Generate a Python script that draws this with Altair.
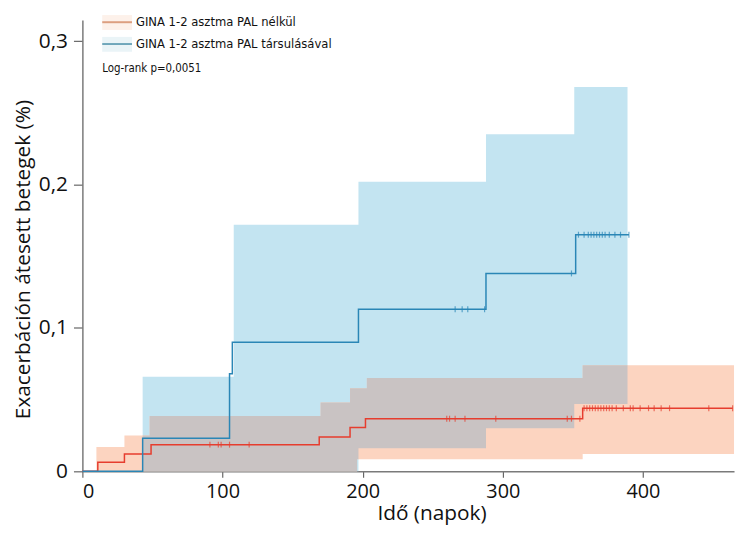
import altair as alt
import pandas as pd

series_no = "GINA 1-2 asztma PAL nélkül"
series_pal = "GINA 1-2 asztma PAL társulásával"
logrank = "Log-rank p=0,0051"

# Kaplan-Meier step curves (time in days, cumulative proportion)
no_t = [0, 11, 30, 49, 169, 191, 202, 357, 464]
no_s = [0, 0.0064, 0.012, 0.0186, 0.024, 0.0305, 0.0367, 0.044, 0.044]
pal_t = [0, 43, 105, 107, 197, 288, 352, 390]
pal_s = [0, 0.023, 0.068, 0.090, 0.113, 0.138, 0.165, 0.165]

# confidence bands (step starts)
no_band_t = [10, 30, 48, 170, 191, 196, 203, 357, 465]
no_band_hi = [0.017, 0.025, 0.0385, 0.048, 0.058, 0.058, 0.065, 0.074, 0.074]
no_band_lo = [0, 0, 0, 0, 0, 0.0084, 0.0084, 0.012, 0.012]
pal_band_t = [43, 108, 197, 288, 351, 389]
pal_band_hi = [0.066, 0.172, 0.202, 0.235, 0.268, 0.268]
pal_band_lo = [0, 0, 0.016, 0.030, 0.047, 0.047]

# censoring marks
no_cens = [91, 97, 99, 105, 119, 260, 262, 266, 273, 295, 346, 349, 355,
           358, 360, 362, 364, 366, 368, 370, 372, 374, 376, 378, 381, 386,
           391, 393, 398, 404, 408, 413, 419, 447, 464]
pal_cens = [266, 271, 275, 287, 349, 354, 358, 361, 363, 365, 367, 369,
            371, 373, 376, 380, 384, 390]

x_ticks = [0, 100, 200, 300, 400]
y_ticks = [0, 0.1, 0.2, 0.3]

LEGEND_FONT = "DejaVu Sans Condensed, Roboto, sans-serif"
AXIS_FONT = "Open Sans"


def step_at(t, ts, vals):
    idx = 0
    for i, tt in enumerate(ts):
        if tt <= t:
            idx = i
    return vals[idx]


lines = pd.DataFrame(
    [{"t": t, "s": s, "g": series_no} for t, s in zip(no_t, no_s)]
    + [{"t": t, "s": s, "g": series_pal} for t, s in zip(pal_t, pal_s)]
)
no_band = pd.DataFrame({"t": no_band_t, "hi": no_band_hi, "lo": no_band_lo})
pal_band = pd.DataFrame({"t": pal_band_t, "hi": pal_band_hi, "lo": pal_band_lo})

# overlap of the two bands
start = max(no_band_t[0], pal_band_t[0])
end = min(no_band_t[-1], pal_band_t[-1])
breaks = sorted(set([b for b in no_band_t + pal_band_t if start <= b < end] + [start]))
ov = []
for b in breaks:
    lo = max(step_at(b, no_band_t, no_band_lo), step_at(b, pal_band_t, pal_band_lo))
    hi = min(step_at(b, no_band_t, no_band_hi), step_at(b, pal_band_t, pal_band_hi))
    if hi < lo:
        hi = lo
    ov.append({"t": b, "hi": hi, "lo": lo})
ov.append({"t": end, "hi": ov[-1]["hi"], "lo": ov[-1]["lo"]})
ov_band = pd.DataFrame(ov)

cens = pd.DataFrame(
    [{"t": t, "s": step_at(t, no_t, no_s), "g": series_no} for t in no_cens]
    + [{"t": t, "s": step_at(t, pal_t, pal_s), "g": series_pal} for t in pal_cens]
)

xs = alt.Scale(domain=[0, 465], nice=False, zero=False)
ys = alt.Scale(domain=[0, 0.3147], nice=False, zero=False)
cs = alt.Scale(domain=[series_no, series_pal], range=["#e63d2e", "#2a86b6"])

x_axis = alt.Axis(values=x_ticks, format="d", title="Idő (napok)", tickSize=6,
                  labelPadding=4, titlePadding=2, labelFontSize=20, titleFontSize=21,
                  titleX=352)
y_axis = alt.Axis(values=y_ticks, title="Exacerbáción átesett betegek (%)",
                  labelExpr="datum.value == 0 ? '0' : replace(format(datum.value, '.1f'), '.', ',')",
                  tickSize=9, labelPadding=6, titlePadding=5, labelFontSize=21, titleFontSize=21,
                  titleY=241)


def band(df, color):
    return alt.Chart(df).mark_area(interpolate="step-after", color=color, opacity=1).encode(
        x=alt.X("t:Q", scale=xs, axis=x_axis),
        y=alt.Y("hi:Q", scale=ys, axis=y_axis),
        y2="lo:Q",
    )


blue_band = band(pal_band, "#c3e4f1")
orange_band = band(no_band, "#fcd4c0")
gray_band = band(ov_band, "#c9c3c3")

line_layer = alt.Chart(lines).mark_line(interpolate="step-after", strokeWidth=1.5).encode(
    x=alt.X("t:Q", scale=xs),
    y=alt.Y("s:Q", scale=ys),
    color=alt.Color("g:N", scale=cs, legend=None),
)

tick_layer = alt.Chart(cens).mark_tick(orient="vertical", size=6, thickness=1.2).encode(
    x=alt.X("t:Q", scale=xs),
    y=alt.Y("s:Q", scale=ys),
    color=alt.Color("g:N", scale=cs, legend=None),
)

# manual legend (layout only)
one = pd.DataFrame({"k": [0]})
leg_bg1 = alt.Chart(one).mark_rect(color="#fdf1ea").encode(
    x=alt.value(20), x2=alt.value(50), y=alt.value(-5), y2=alt.value(10))
leg_bg2 = alt.Chart(one).mark_rect(color="#eaf4f7").encode(
    x=alt.value(20), x2=alt.value(50), y=alt.value(17), y2=alt.value(32))
leg_line1 = alt.Chart(one).mark_rule(color="#dc9f80", strokeWidth=2).encode(
    x=alt.value(20), x2=alt.value(50), y=alt.value(2.2))
leg_line2 = alt.Chart(one).mark_rule(color="#6fa6ba", strokeWidth=2).encode(
    x=alt.value(20), x2=alt.value(50), y=alt.value(24.2))
leg_text1 = alt.Chart(pd.DataFrame({"label": [series_no]})).mark_text(
    align="left", baseline="middle", font=LEGEND_FONT, fontSize=13, color="#111"
).encode(x=alt.value(54), y=alt.value(2.2), text="label:N")
leg_text2 = alt.Chart(pd.DataFrame({"label": [series_pal]})).mark_text(
    align="left", baseline="middle", font=LEGEND_FONT, fontSize=13, color="#111"
).encode(x=alt.value(54), y=alt.value(24.2), text="label:N")
text_layer = alt.Chart(pd.DataFrame({"label": [logrank]})).mark_text(
    align="left", baseline="middle", font=LEGEND_FONT, fontSize=11.5, color="#111"
).encode(x=alt.value(20), y=alt.value(49), text="label:N")

chart = alt.layer(
    blue_band, orange_band, gray_band, line_layer, tick_layer,
    leg_bg1, leg_bg2, leg_line1, leg_line2, leg_text1, leg_text2, text_layer,
).properties(
    width=657, height=455,
    padding={"left": 75, "top": 10, "right": 3, "bottom": 53},
    autosize=alt.AutoSizeParams(type="none"),
).configure_view(stroke=None).configure_axis(
    grid=False, domainColor="#7a7a7a", domainWidth=1.5, tickColor="#666", tickWidth=1.2,
    labelFont=AXIS_FONT, labelColor="#111",
    titleFont=AXIS_FONT, titleColor="#111", titleFontWeight="normal",
)

chart.save("out.html", embed_options={"renderer": "svg", "actions": False})
